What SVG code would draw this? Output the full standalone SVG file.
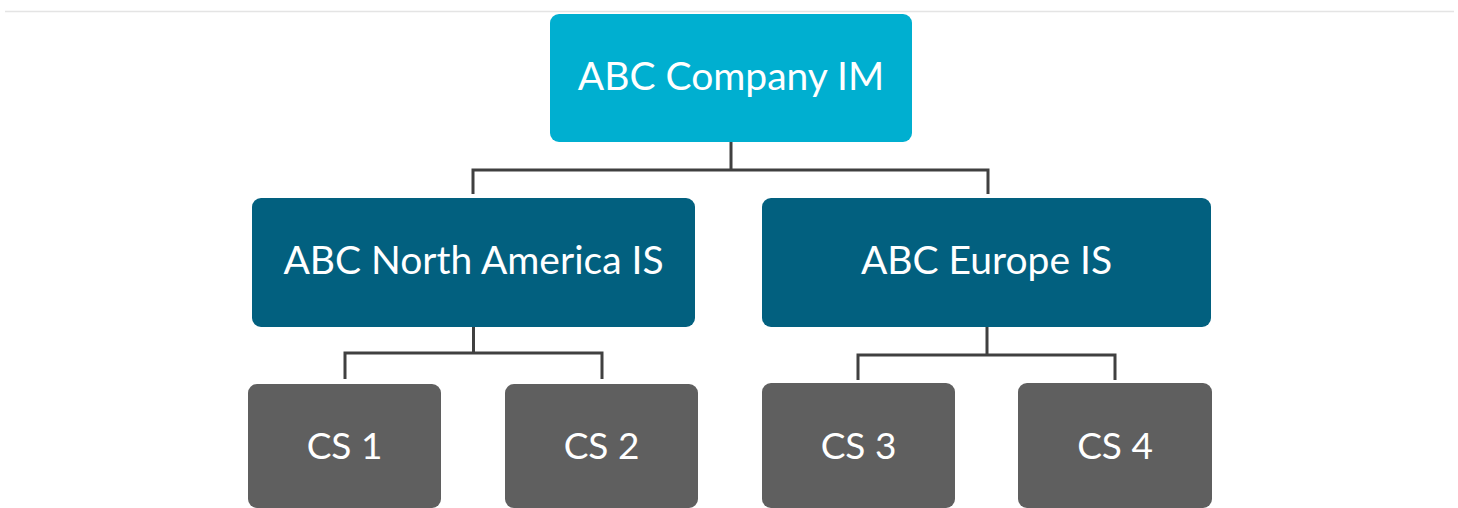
<svg xmlns="http://www.w3.org/2000/svg" width="1458" height="508" viewBox="0 0 1458 508">
  <style>
    .box { stroke: none; }
    .root { fill: #00AFD0; }
    .region { fill: #02607F; }
    .unit { fill: #5F5F5F; }
    .label { font-family: Lato, "Liberation Sans", sans-serif; fill: #ffffff; text-anchor: middle; }
    .big { font-size: 39px; }
    .mid { font-size: 39px; }
    .small { font-size: 37px; }
    .link { fill: none; stroke: #404040; stroke-width: 3; stroke-linejoin: miter; }
  </style>
  <rect width="1458" height="508" fill="#ffffff"/>
  <line x1="5" y1="11.5" x2="1454" y2="11.5" stroke="#e4e4e4" stroke-width="1.5"/>

  <g id="connectors">
    <path class="link" d="M731 142 V170 M473 194 V170 H988 V194"/>
    <path class="link" d="M473.5 327 V353 M345 379 V353 H602 V379"/>
    <path class="link" d="M987 327 V355 M858 380 V355 H1115 V380"/>
  </g>

  <g id="abc-company-im">
    <rect class="box root" x="550" y="14" width="362" height="128" rx="9"/>
    <text class="label big" x="731" y="90">ABC Company IM</text>
  </g>

  <g id="abc-north-america-is">
    <rect class="box region" x="252" y="198" width="443" height="129" rx="9"/>
    <text class="label mid" x="473.5" y="274">ABC North America IS</text>
  </g>

  <g id="abc-europe-is">
    <rect class="box region" x="762" y="198" width="449" height="129" rx="9"/>
    <text class="label mid" x="986.5" y="274">ABC Europe IS</text>
  </g>

  <g id="cs-1">
    <rect class="box unit" x="248" y="384" width="193" height="124" rx="9"/>
    <text class="label small" x="344.5" y="459">CS 1</text>
  </g>

  <g id="cs-2">
    <rect class="box unit" x="505" y="384" width="193" height="124" rx="9"/>
    <text class="label small" x="601.5" y="459">CS 2</text>
  </g>

  <g id="cs-3">
    <rect class="box unit" x="762" y="383" width="193" height="125" rx="9"/>
    <text class="label small" x="858.5" y="459">CS 3</text>
  </g>

  <g id="cs-4">
    <rect class="box unit" x="1018" y="383" width="194" height="125" rx="9"/>
    <text class="label small" x="1115" y="459">CS 4</text>
  </g>
</svg>
